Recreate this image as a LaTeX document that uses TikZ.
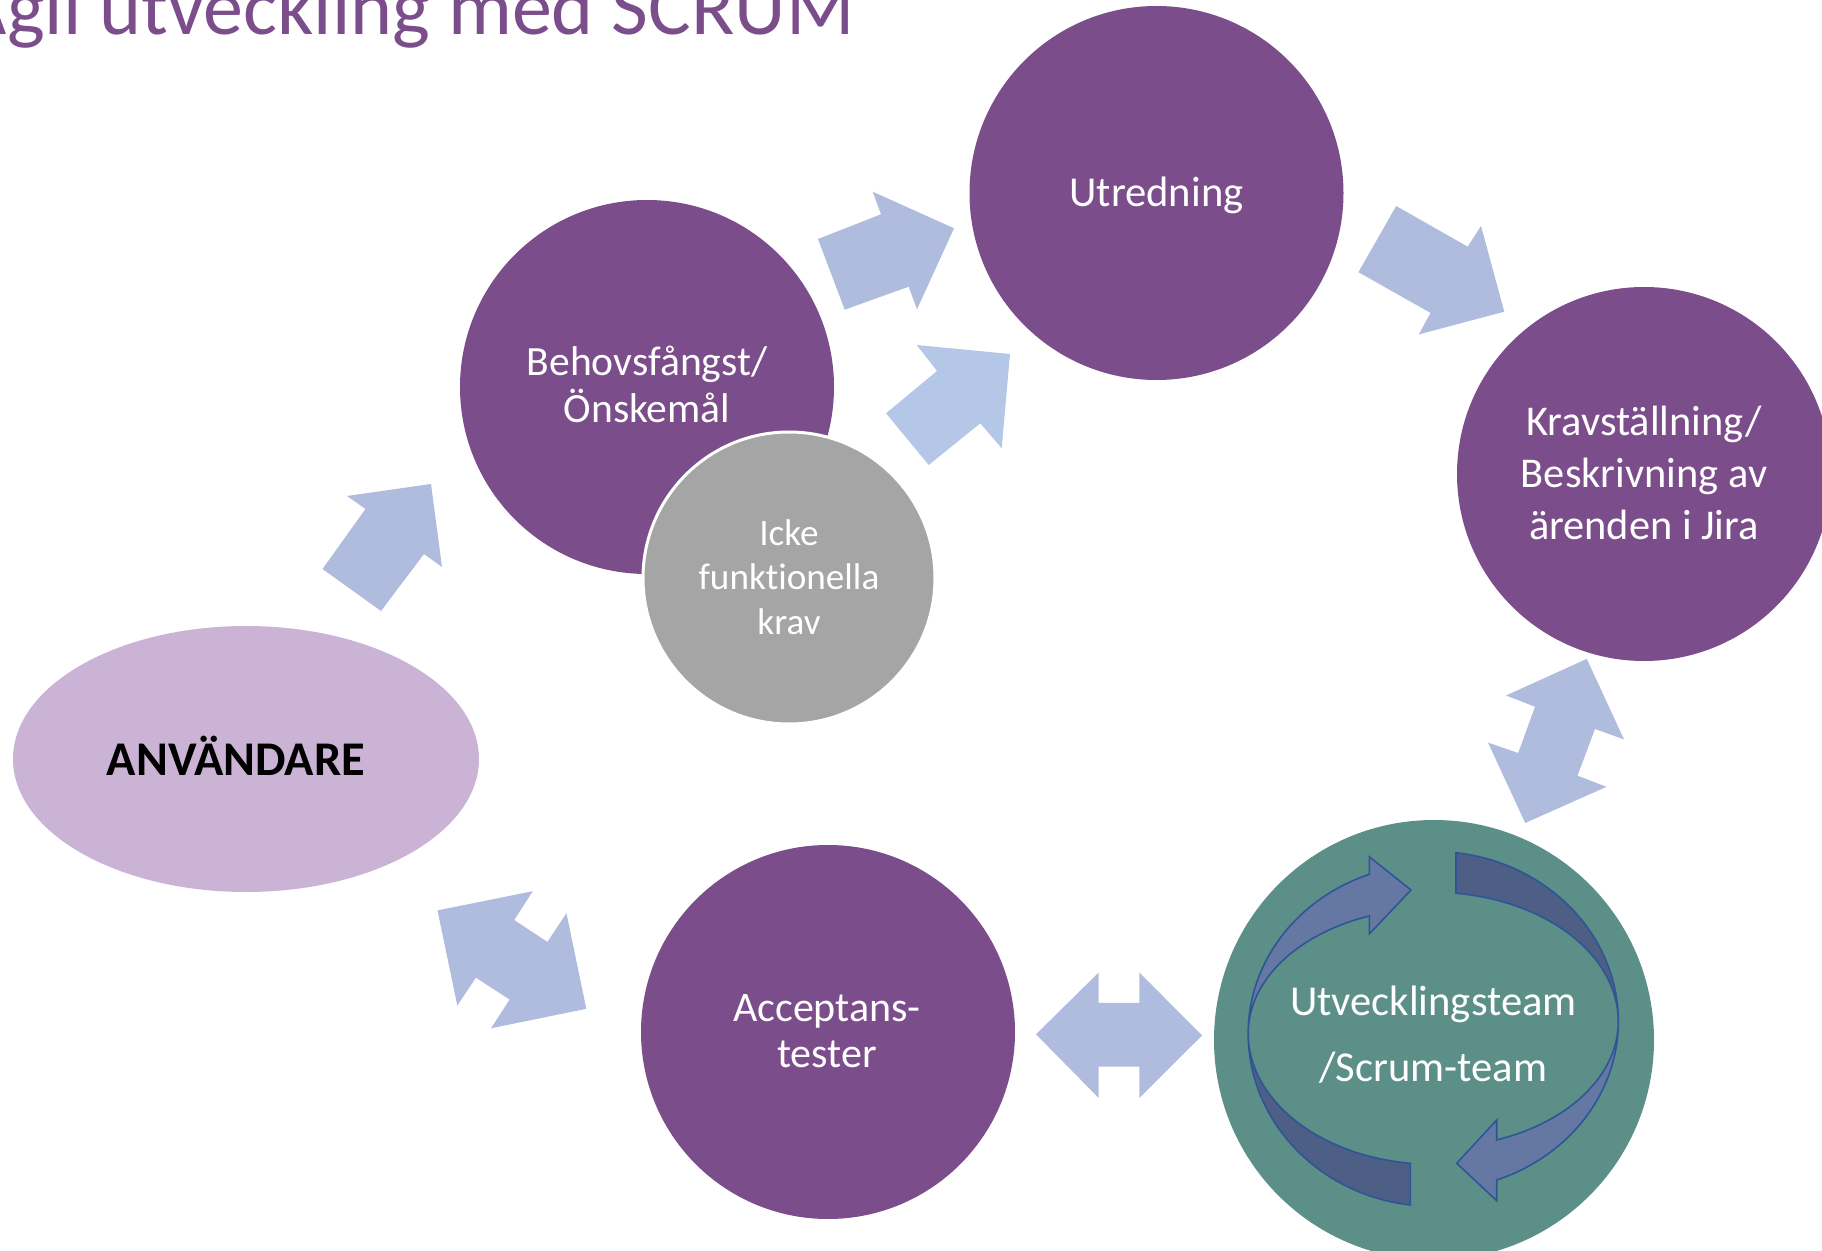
\documentclass[tikz,border=0pt]{standalone}
\usepackage{fontspec}
\setmainfont{Carlito}[Ligatures={NoCommon}]
\usetikzlibrary{shapes.geometric}
\definecolor{purp}{HTML}{7B4D8B}
\definecolor{lilac}{HTML}{CBB3D6}
\definecolor{greyc}{HTML}{A5A5A5}
\definecolor{teal}{HTML}{5B8F88}
\definecolor{arrowblue}{HTML}{AFBCDD}
\definecolor{arrowblue2}{HTML}{B4C7E7}
\definecolor{ringlight}{HTML}{6478A3}
\definecolor{ringdark}{HTML}{4E5F85}
\definecolor{ringline}{HTML}{2F5597}
\begin{document}
\begin{tikzpicture}[x=0.5pt,y=-0.5pt,
  bub/.style={circle, fill=purp, inner sep=0pt, minimum size=187pt},
  txt/.style={text=white, align=center, anchor=base, inner sep=0pt},
  blk/.style={fill=arrowblue},
  ringpart/.style={draw=ringline, line width=0.8pt, line join=miter}]
\useasboundingbox (0,0) rectangle (1822,1251);
\clip (0,0) rectangle (1822,1251);

% title
\node[anchor=base east, text=purp, inner sep=0pt, font=\fontsize{40}{44}\selectfont] (title) at (855,34.5) {Agil utveckling med SCRUM};

% nodes
\node[ellipse, fill=lilac, inner sep=0pt, minimum width=233pt, minimum height=133pt] (user) at (246,759) {};
\node[bub] (behov) at (647,387) {};
\node[circle, fill=greyc, draw=white, line width=1.5pt, inner sep=0pt, minimum size=146pt] (icke) at (789,578) {};
\node[bub] (utred) at (1156.5,193) {};
\node[bub] (krav) at (1644,474) {};
\node[bub] (accept) at (828,1032) {};
\node[circle, fill=teal, inner sep=0pt, minimum size=220pt] (utv) at (1434,1040) {};

% texts
\node[anchor=base, inner sep=0pt, font=\bfseries\fontsize{24.2}{28}\selectfont] (userT) at (236,775.7) {ANVÄNDARE};
\node[txt, font=\fontsize{20.8}{23.25}\selectfont] (behovT) at (647,422.5) {Behovsfångst/\\Önskemål};
\node[txt, font=\fontsize{18.6}{22.5}\selectfont] (ickeT) at (789,635) {Icke\\funktionella\\krav};
\node[txt, font=\fontsize{21.3}{24}\selectfont] (utredT) at (1156.5,206.5) {Utredning};
\node[txt, font=\fontsize{21.2}{26}\selectfont] (kravT) at (1644,540) {Kravställning/\\Beskrivning av\\ärenden i Jira};
\node[txt, font=\fontsize{21}{23}\selectfont] (acceptT) at (827,1067.4) {Acceptans-\\tester};

% ring arrows inside Utvecklingsteam
\path[ringpart, fill=ringlight] (1369.3,874.3)
  arc[start angle=249.8, end angle=180, x radius=185, y radius=169.4]
  arc[start angle=180, end angle=249.8, x radius=185, y radius=125]
  -- (1369.3,934) -- (1411,890) -- (1369.3,856.7) -- cycle;
\path[ringpart, fill=ringdark] (1248.2,1033.3)
  arc[start angle=180, end angle=97.1, x radius=185, y radius=131]
  -- (1410.3,1205)
  arc[start angle=97.1, end angle=180, x radius=185, y radius=173] -- cycle;
\path[ringpart, fill=ringdark] (1456,852.7)
  arc[start angle=277.05, end angle=360, x radius=185, y radius=170.3]
  arc[start angle=0, end angle=-82.95, x radius=185, y radius=129.4] -- cycle;
\path[ringpart, fill=ringlight] (1618.3,1021.7)
  arc[start angle=0, end angle=69.96, x radius=185, y radius=125.9]
  -- (1496.7,1120) -- (1456.7,1163.3) -- (1496.7,1200.7) -- (1496.7,1180)
  arc[start angle=69.96, end angle=0, x radius=185, y radius=168.5] -- cycle;
\node[txt, font=\fontsize{21.3}{33}\selectfont] (utvT) at (1433.3,1081.7) {Utvecklingsteam\\/Scrum-team};

% block arrows
\fill[blk] (381,611) -- (322.5,569) -- (365.5,509) -- (347,496) -- (431,484) -- (442,567) -- (424,554) -- cycle;
\fill[blk] (818,239) -- (881,214.3) -- (872.7,191.7) -- (954,228.3) -- (917,309.3) -- (908.7,286.7) -- (844.7,309.7) -- cycle;
\fill[fill=arrowblue2] (886,413.3) -- (937,371) -- (916.7,345) -- (1010,354) -- (1001.7,448.3) -- (980.3,423.3) -- (928.7,465) -- cycle;
\fill[blk] (1396.2,206) -- (1467.7,246.7) -- (1481,226) -- (1504.3,311.7) -- (1418.8,334.4) -- (1430.5,312.9) -- (1358.4,272.2) -- cycle;
\fill[blk] (1586.8,658.9) -- (1624,739.4) -- (1595,729) -- (1577.5,775.7) -- (1606.5,786.8) -- (1525.2,823) -- (1488,742.6) -- (1518.2,753) -- (1535,706.7) -- (1506,695.5) -- cycle;
\fill[blk] (1036,1034.3) -- (1098.7,972.5) -- (1098.7,1002.8) -- (1139.4,1002.8) -- (1139.4,972.5) -- (1202,1035.5) -- (1139.4,1098) -- (1139.4,1066.6) -- (1098.7,1066.6) -- (1098.7,1098) -- cycle;
\fill[blk] (437.5,910.4) -- (532.8,891.2) -- (514.2,920) -- (547.4,941.9) -- (566.5,913.2) -- (586.3,1008.8) -- (491,1028.3) -- (509.6,999.6) -- (475.9,977.7) -- (457.3,1005.6) -- cycle;
\end{tikzpicture}
\end{document}
